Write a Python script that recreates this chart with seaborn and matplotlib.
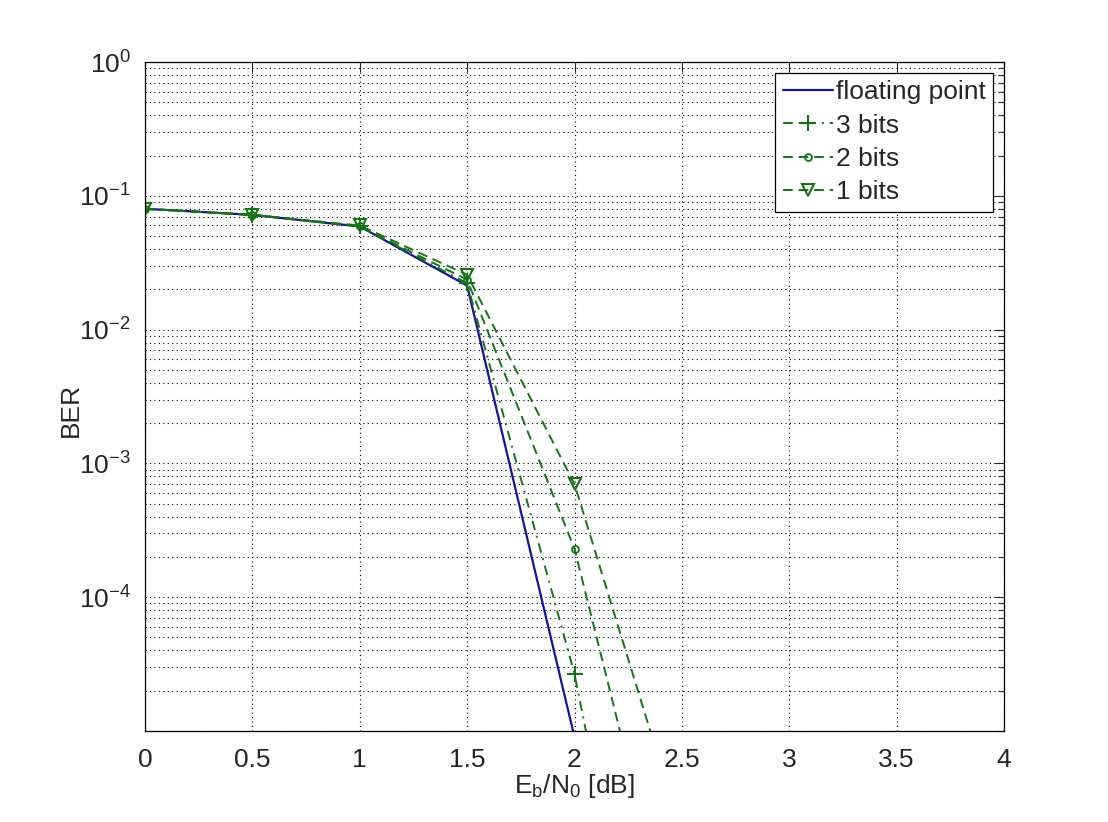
import numpy as np
import pandas as pd
import matplotlib
matplotlib.use("Agg")
import matplotlib.pyplot as plt
import seaborn as sns
from matplotlib.ticker import LogLocator, FixedLocator, NullFormatter, FuncFormatter

ebn0 = [0, 0.5, 1, 1.5, 2, 2.5]
ber_float = [0.080, 0.072, 0.059, 0.0213, 9.0e-6, 1e-10]
ber_3bits = [0.080, 0.072, 0.059, 0.0222, 2.67e-5, 2.6e-9]
ber_2bits = [0.080, 0.072, 0.059, 0.0236, 2.3e-4, 1.4e-7]
ber_1bits = [0.080, 0.072, 0.060, 0.0257, 7.0e-4, 1.7e-6]
labels = ["floating point", "3 bits", "2 bits", "1 bits"]
x_ticks = [0, 0.5, 1, 1.5, 2, 2.5, 3, 3.5, 4]

sns.set_style("white")
plt.rcParams['font.family'] = ['Liberation Sans', 'DejaVu Sans']
plt.rcParams['mathtext.fontset'] = 'custom'
plt.rcParams['mathtext.rm'] = 'Liberation Sans'
plt.rcParams['mathtext.it'] = 'Liberation Sans'
plt.rcParams['mathtext.default'] = 'regular'

fig = plt.figure(figsize=(11.08, 8.22), dpi=100)
ax = fig.add_axes([145/1108, 1-731/822, (1004-145)/1108, (731-62)/822])

blue = '#14149a'
green = '#157315'

sns.lineplot(x=ebn0, y=ber_float, ax=ax, color=blue, linewidth=1.6, label=labels[0])
sns.lineplot(x=ebn0, y=ber_3bits, ax=ax, color=green, linewidth=1.4, marker='+',
             markersize=11, markeredgewidth=1.5, markeredgecolor=green, label=labels[1])
sns.lineplot(x=ebn0, y=ber_2bits, ax=ax, color=green, linewidth=1.4, marker='o',
             markersize=5, markerfacecolor='none', markeredgecolor=green, markeredgewidth=1.3, label=labels[2])
sns.lineplot(x=ebn0, y=ber_1bits, ax=ax, color=green, linewidth=1.4, marker='v',
             markersize=8, markerfacecolor='none', markeredgecolor=green, markeredgewidth=1.5, label=labels[3])

lines = ax.get_lines()
lines[1].set_linestyle((0, (5, 3, 1, 3)))
lines[2].set_linestyle((0, (5, 3)))
lines[3].set_linestyle((0, (5, 3)))

ax.set_yscale('log')
ax.set_xlim(0, 4)
ax.set_ylim(1e-5, 1)
ax.xaxis.set_major_locator(FixedLocator(x_ticks))
ax.set_xticklabels([f"{t:g}" for t in x_ticks])
ax.yaxis.set_major_locator(LogLocator(base=10, numticks=10))
ax.yaxis.set_minor_locator(LogLocator(base=10, subs=np.arange(2, 10), numticks=20))
ax.yaxis.set_minor_formatter(NullFormatter())

def yfmt(v, pos):
    e = int(round(np.log10(v)))
    if e <= -5:
        return ''
    return r'$10^{%d}$' % e
ax.yaxis.set_major_formatter(FuncFormatter(yfmt))

ax.grid(True, which='major', axis='both', color='black', linestyle=(0, (1, 3)), linewidth=0.8)
ax.grid(True, which='minor', axis='y', color='black', linestyle=(0, (1, 3)), linewidth=0.8)

ax.tick_params(which='both', direction='in', top=True, right=True, labelsize=19)
ax.tick_params(axis='x', pad=12)
ax.tick_params(axis='y', pad=10)
ax.tick_params(which='major', length=7, width=0.8)
ax.tick_params(which='minor', length=4, width=0.8)
for s in ax.spines.values():
    s.set_color('black')
    s.set_linewidth(0.9)

ax.set_xlabel(r'$E_b/N_0$ [dB]', fontsize=19, labelpad=0)
ax.set_ylabel('BER', fontsize=19)
ax.yaxis.set_label_coords(-0.072, 0.48)

handles, lbls = ax.get_legend_handles_labels()
leg = ax.legend(handles, lbls, loc='upper right', fontsize=19, frameon=True, fancybox=False,
                edgecolor='black', framealpha=1, handlelength=1.9, handletextpad=0.1,
                borderaxespad=0.4, labelspacing=0.35, borderpad=0.3)
leg.get_frame().set_linewidth(0.9)

fig.savefig('out.png', dpi=100, facecolor='white')
